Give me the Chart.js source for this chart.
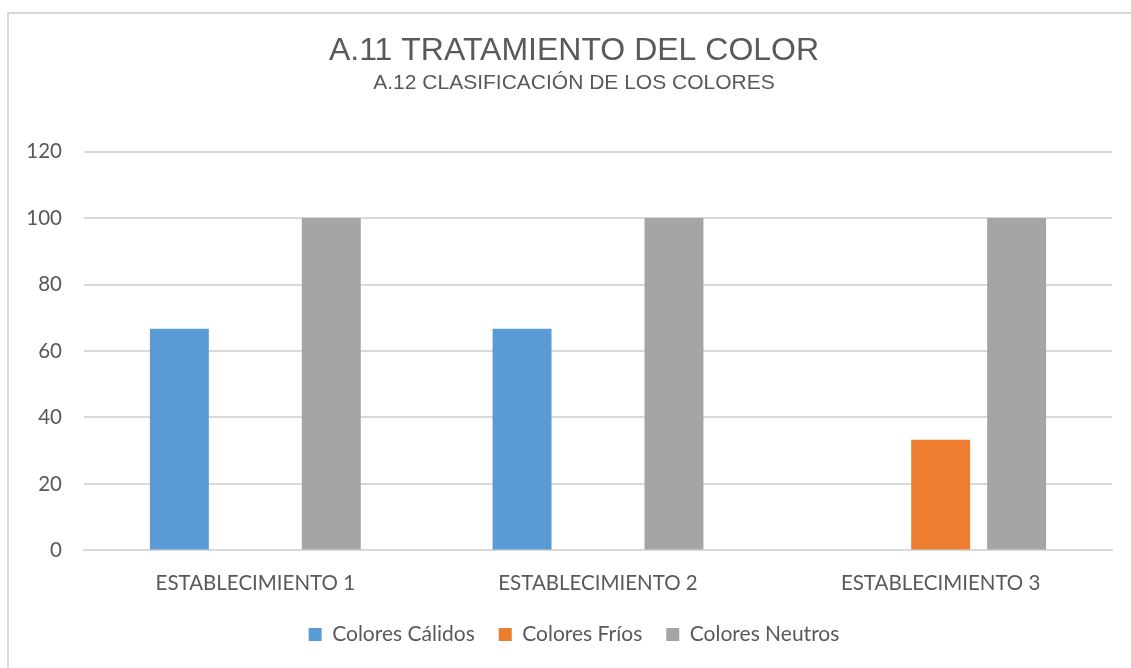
<!DOCTYPE html>
<html>
<head>
<meta charset="utf-8">
<script src="https://cdn.jsdelivr.net/npm/chart.js@4"></script>
<style>
  html, body { margin: 0; padding: 0; background: #fff; overflow: hidden; }
  #frame { position: absolute; left: 7px; top: 12px; width: 1140px; height: 680px; border: 2px solid #d9d9d9; box-sizing: border-box; }
  #wrap { position: absolute; left: 0; top: 0; width: 1131px; height: 668px; }
</style>
</head>
<body>
<div id="frame"></div>
<div id="wrap"><canvas id="chart"></canvas></div>
<script>
// chart data
const categories = ['ESTABLECIMIENTO 1', 'ESTABLECIMIENTO 2', 'ESTABLECIMIENTO 3'];
const calidos = [66.67, 66.67, 0];
const frios = [0, 0, 33.33];
const neutros = [100, 100, 100];
const yTicks = [0, 20, 40, 60, 80, 100, 120];

const textColor = '#595959';
const gridColor = '#d9d9d9';

const ctx = document.getElementById('chart');
new Chart(ctx, {
  type: 'bar',
  data: {
    labels: categories,
    datasets: [
      { label: 'Colores Cálidos', data: calidos, backgroundColor: '#5b9bd5' },
      { label: 'Colores Fríos', data: frios, backgroundColor: '#ed7d31' },
      { label: 'Colores Neutros', data: neutros, backgroundColor: '#a5a5a5' }
    ]
  },
  options: {
    responsive: true,
    maintainAspectRatio: false,
    animation: false,
    categoryPercentage: 0.665,
    barPercentage: 0.776,
    layout: { padding: { left: 36, right: 19, top: 0, bottom: 13 } },
    plugins: {
      title: {
        display: true,
        text: 'A.11 TRATAMIENTO DEL COLOR',
        color: textColor,
        font: { family: 'Liberation Sans', size: 32, weight: 'normal' },
        padding: { top: 32, bottom: 0 }
      },
      subtitle: {
        display: true,
        text: 'A.12 CLASIFICACIÓN DE LOS COLORES',
        color: textColor,
        font: { family: 'Liberation Sans', size: 21, weight: 'normal' },
        padding: { top: 0, bottom: 56 }
      },
      legend: {
        position: 'bottom',
        labels: {
          color: textColor,
          font: { family: 'Lato', size: 21 },
          boxWidth: 13,
          boxHeight: 13,
          padding: 24
        }
      },
      tooltip: { enabled: false }
    },
    scales: {
      x: {
        grid: { display: false, tickLength: 17 },
        border: { color: gridColor, width: 2 },
        ticks: { color: textColor, font: { family: 'Lato', size: 20.5 }, padding: 4 }
      },
      y: {
        min: 0,
        max: 120,
        afterBuildTicks: function(scale) {
          scale.ticks = yTicks.map(function(v) { return { value: v }; });
        },
        afterFit: function(scale) {
          scale.width = 48;
          // let the labels run into the left padding
          scale._computeLabelArea = function() {};
        },
        grid: { color: gridColor, lineWidth: 2, drawTicks: false },
        border: { display: false },
        ticks: { color: textColor, font: { family: 'Lato', size: 20.5 }, padding: 22 }
      }
    }
  }
});
</script>
</body>
</html>
